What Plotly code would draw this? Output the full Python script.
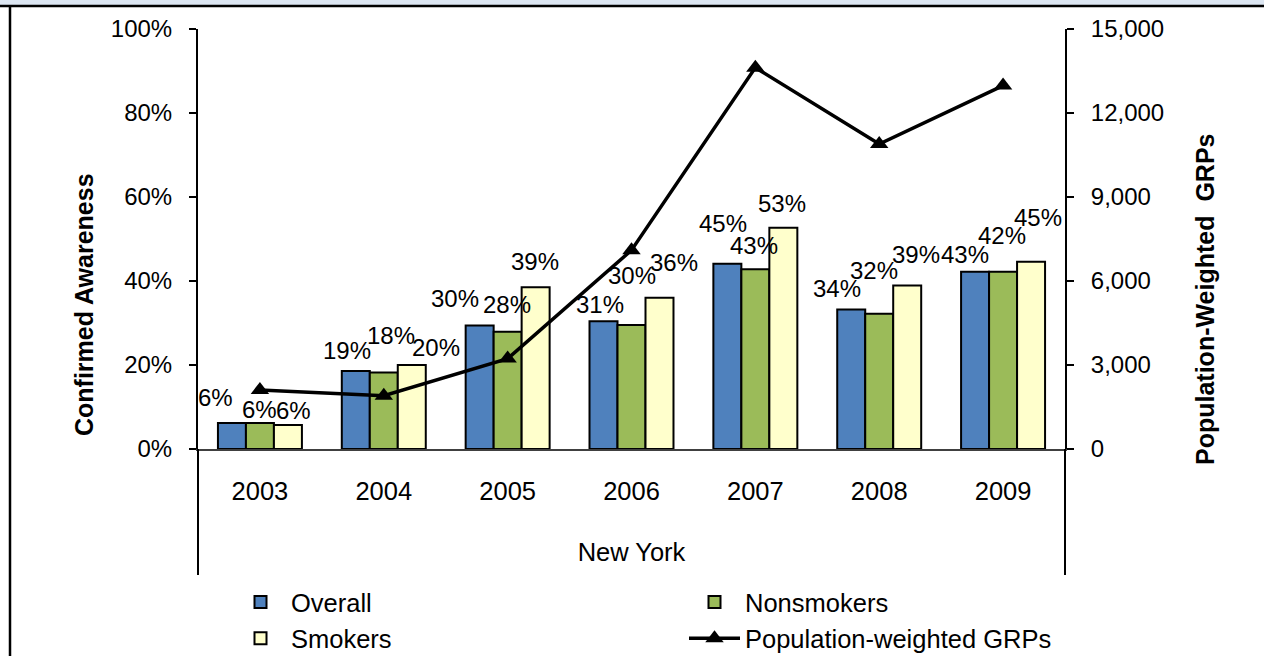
import plotly.graph_objects as go

# ---------------- data ----------------
years = ["2003", "2004", "2005", "2006", "2007", "2008", "2009"]
overall = [6.2, 18.6, 29.4, 30.4, 44.1, 33.2, 42.2]
nonsmokers = [6.2, 18.2, 27.9, 29.5, 42.8, 32.2, 42.2]
smokers = [5.7, 20.0, 38.5, 36.0, 52.7, 38.9, 44.6]
grps = [2110, 1900, 3230, 7100, 13620, 10890, 12980]

overall_labels = ["6%", "19%", "30%", "31%", "45%", "34%", "43%"]
nonsmokers_labels = ["6%", "18%", "28%", "30%", "43%", "32%", "42%"]
smokers_labels = ["6%", "20%", "39%", "36%", "53%", "39%", "45%"]

# label placement offsets (px) from each bar's top centre: (dx, up)
overall_off = [(-16, 24), (-9, 19), (-25, 26), (-4, 16), (-4, 39), (-14, 20), (-10, 16)]
nonsmokers_off = [(0, 12), (7, 36), (-1, 26), (0, 49), (-1, 23), (-5, 42), (-1, 35)]
smokers_off = [(6, 14), (24, 17), (-1, 25), (15, 34), (-1, 23), (9, 30), (7, 43)]

# ---------------- layout geometry ----------------
W, H = 1264, 656
L, R, T, B = 198, 199, 29, 207
PW, PH = W - L - R, H - T - B
BARGAP = 0.322
FONT = "Arial, 'Liberation Sans', sans-serif"


def px(x):
    return (x - L) / PW


def py(y):
    return (H - B - y) / PH


cat_w = PW / len(years)
bar_w = (1 - BARGAP) * cat_w / 3

fig = go.Figure()

series = [
    ("Overall", overall, "#4F81BD", "legend"),
    ("Nonsmokers", nonsmokers, "#9BBB59", "legend2"),
    ("Smokers", smokers, "#FFFFCC", "legend"),
]
for name, vals, col, lg in series:
    fig.add_trace(go.Bar(
        x=years, y=vals, name=name, legend=lg,
        marker=dict(color=col, line=dict(color="black", width=2)),
        hoverinfo="skip",
    ))

fig.add_trace(go.Scatter(
    x=years, y=grps, name="Population-weighted GRPs", yaxis="y2", legend="legend2",
    mode="lines+markers",
    line=dict(color="black", width=3.5),
    marker=dict(symbol="triangle-up", size=16, color="black"),
    hoverinfo="skip",
))

annotations = []
for k, (labels, vals, offs) in enumerate([
        (overall_labels, overall, overall_off),
        (nonsmokers_labels, nonsmokers, nonsmokers_off),
        (smokers_labels, smokers, smokers_off)]):
    for i in range(len(years)):
        dx, up = offs[i]
        annotations.append(dict(
            x=i, y=vals[i], xref="x", yref="y", text=labels[i], showarrow=False,
            xanchor="center", yanchor="middle",
            xshift=(k - 1) * bar_w + dx, yshift=up + 1,
            font=dict(family=FONT, size=24, color="black"),
        ))

annotations += [
    dict(x=px(84), y=py(305), xref="paper", yref="paper", text="<b>Confirmed Awareness</b>",
         xanchor="center", yanchor="middle",
         textangle=-90, showarrow=False, font=dict(family=FONT, size=25, color="black")),
    dict(x=px(1205), y=py(300), xref="paper", yref="paper",
         text="<b>Population-Weighted&nbsp; GRPs</b>",
         xanchor="center", yanchor="middle",
         textangle=-90, showarrow=False, font=dict(family=FONT, size=25, color="black")),
]

shapes = [
    dict(type="rect", xref="paper", yref="paper", x0=px(0), x1=px(W), y0=py(6), y1=py(-2),
         fillcolor="#DCE6F2", line=dict(width=0), layer="above"),
    dict(type="line", xref="paper", yref="paper", x0=px(0), x1=px(W), y0=py(6), y1=py(6),
         line=dict(color="black", width=2.5)),
    dict(type="line", xref="paper", yref="paper", x0=px(10), x1=px(10), y0=py(6), y1=py(H + 2),
         line=dict(color="black", width=2.5)),
    dict(type="line", xref="paper", yref="paper", x0=0, x1=0, y0=0, y1=py(575),
         line=dict(color="black", width=2)),
    dict(type="line", xref="paper", yref="paper", x0=1, x1=1, y0=0, y1=py(575),
         line=dict(color="black", width=2)),
]

fig.update_layout(
    width=W, height=H,
    margin=dict(l=L, r=R, t=T, b=B, autoexpand=False),
    paper_bgcolor="white", plot_bgcolor="white",
    font=dict(family=FONT, size=24, color="black"),
    barmode="group", bargap=BARGAP, bargroupgap=0,
    showlegend=True,
    legend=dict(x=px(230), y=py(579), xanchor="left", yanchor="top",
                orientation="v", itemwidth=51, bgcolor="rgba(0,0,0,0)",
                font=dict(family=FONT, size=25.5, color="black"),
                tracegroupgap=0, itemclick=False, itemdoubleclick=False),
    legend2=dict(x=px(684), y=py(579), xanchor="left", yanchor="top",
                 orientation="v", itemwidth=51, bgcolor="rgba(0,0,0,0)",
                 font=dict(family=FONT, size=25.5, color="black"),
                 tracegroupgap=0, itemclick=False, itemdoubleclick=False),
    xaxis=dict(
        type="category", range=[-0.5, len(years) - 0.5],
        showline=True, linecolor="#404040", linewidth=1.5,
        ticks="", showgrid=False, zeroline=False,
        tickfont=dict(family=FONT, size=25.5), ticklabelstandoff=19,
        title=dict(text="New York", font=dict(family=FONT, size=25.5), standoff=39),
    ),
    yaxis=dict(
        range=[0, 100], dtick=20, ticksuffix="%", showgrid=False, zeroline=False,
        showline=True, linecolor="black", linewidth=2,
        ticks="outside", ticklen=7, tickwidth=2, tickcolor="black",
        tickfont=dict(family=FONT, size=24), ticklabelstandoff=12,
    ),
    yaxis2=dict(
        range=[0, 15000], dtick=3000, tickformat=",", overlaying="y", side="right",
        showgrid=False, zeroline=False,
        showline=True, linecolor="black", linewidth=2,
        ticks="outside", ticklen=7, tickwidth=2, tickcolor="black",
        tickfont=dict(family=FONT, size=24), ticklabelstandoff=12,
    ),
    annotations=annotations,
    shapes=shapes,
)

fig.write_html("out.html", config={"displayModeBar": False},
               post_script="document.body.style.margin='0';")
